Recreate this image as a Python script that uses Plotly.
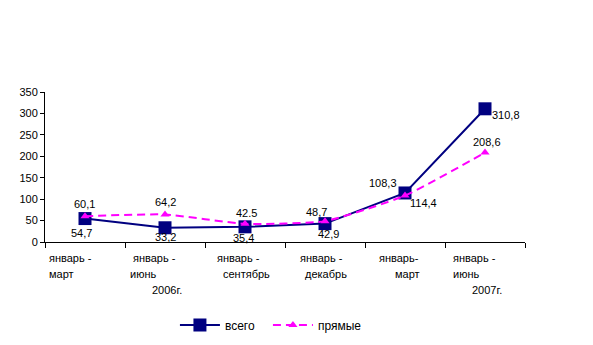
import plotly.graph_objects as go

# Periods (multi-line category captions)
periods = [
    ["январь -", "март"],
    ["январь -", "июнь", "2006г."],
    ["январь -", "сентябрь"],
    ["январь -", "декабрь"],
    ["январь-", "март"],
    ["январь -", "июнь", "2007г."],
]

total_values = [54.7, 33.2, 35.4, 42.9, 114.4, 310.8]
direct_values = [60.1, 64.2, 42.5, 48.7, 108.3, 208.6]

total_labels = ["54,7", "33,2", "35,4", "42,9", "114,4", "310,8"]
direct_labels = ["60,1", "64,2", "42.5", "48,7", "108,3", "208,6"]

y_ticks = [0, 50, 100, 150, 200, 250, 300, 350]

NAVY = "#000080"
MAGENTA = "#FF00FF"
FONT = "Liberation Sans, Arial, sans-serif"

xs = list(range(len(periods)))

fig = go.Figure()
fig.add_trace(go.Scatter(
    x=xs, y=total_values, name="всего", mode="lines+markers",
    line=dict(color=NAVY, width=2),
    marker=dict(symbol="square", size=13, color=NAVY),
))
fig.add_trace(go.Scatter(
    x=xs, y=direct_values, name="прямые", mode="lines+markers",
    line=dict(color=MAGENTA, width=2, dash="8px,5px", shape="spline", smoothing=0.5),
    marker=dict(symbol="triangle-up", size=8, color=MAGENTA),
))

annotations = []

# value labels: (dx, dy) pixel offsets of each caption from its point
total_offsets = [(-4, 14), (0, 9), (-2, 11), (3, 10), (18, 10), (21, 6)]
direct_offsets = [(-1, -12), (0, -12), (1, -11), (-9, -9), (-22, -13), (2, -11)]
for i, (v, t) in enumerate(zip(total_values, total_labels)):
    dx, dy = total_offsets[i]
    annotations.append(dict(x=i, y=v, xref="x", yref="y", text=t, showarrow=False,
                            xshift=dx, yshift=-dy, font=dict(size=11, color="black", family=FONT)))
for i, (v, t) in enumerate(zip(direct_values, direct_labels)):
    dx, dy = direct_offsets[i]
    annotations.append(dict(x=i, y=v, xref="x", yref="y", text=t, showarrow=False,
                            xshift=dx, yshift=-dy, font=dict(size=11, color="black", family=FONT)))

# category captions, one line at a time
line_offsets = [
    [-38, -38],
    [-34, -37, -15],
    [-30, -24],
    [-27, -22],
    [-28, -12],
    [-34, -34, -15],
]
row_shift = [-16, -32, -48]
for i, lines in enumerate(periods):
    for j, line in enumerate(lines):
        annotations.append(dict(x=i, y=0, xref="x", yref="paper", text=line, showarrow=False,
                                xanchor="left", yanchor="middle",
                                xshift=line_offsets[i][j], yshift=row_shift[j],
                                font=dict(size=11, color="black", family=FONT)))

fig.update_layout(
    width=593, height=345,
    margin=dict(l=45, r=68, t=92, b=103),
    paper_bgcolor="white", plot_bgcolor="white",
    font=dict(family=FONT, size=11, color="black"),
    showlegend=True,
    legend=dict(orientation="h", xref="container", yref="container",
                x=0.295, y=0.058, xanchor="left", yanchor="middle",
                font=dict(size=12, color="black", family=FONT),
                itemwidth=40, entrywidth=38, tracegroupgap=0,
                bgcolor="rgba(0,0,0,0)"),
    annotations=annotations,
)
fig.update_xaxes(
    range=[-0.5, 5.5], tickmode="array",
    tickvals=[k - 0.5 for k in range(len(periods) + 1)],
    showticklabels=False, ticks="outside", ticklen=5, tickcolor="black",
    showline=True, linecolor="black", linewidth=1, showgrid=False, zeroline=False,
)
fig.update_yaxes(
    range=[0, 350], tickmode="array", tickvals=y_ticks,
    ticks="outside", ticklen=4, tickcolor="black",
    showline=True, linecolor="black", linewidth=1, showgrid=False, zeroline=False,
    tickfont=dict(size=11, color="black", family=FONT),
)

fig.write_html("out.html")
